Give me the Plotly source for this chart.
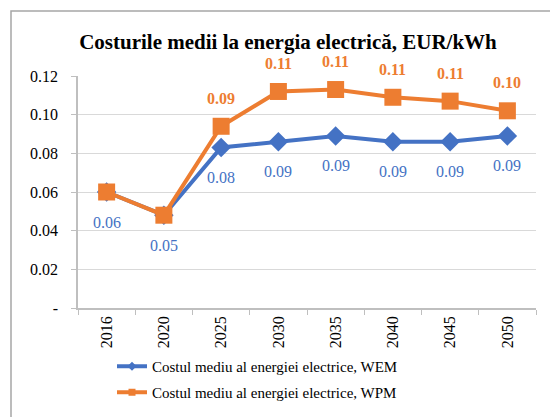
import plotly.graph_objects as go

years = ["2016", "2020", "2025", "2030", "2035", "2040", "2045", "2050"]
wem = [0.060, 0.048, 0.083, 0.086, 0.089, 0.086, 0.086, 0.089]
wpm = [0.060, 0.048, 0.094, 0.112, 0.113, 0.109, 0.107, 0.102]
wem_name = "Costul mediu al energiei electrice, WEM"
wpm_name = "Costul mediu al energiei electrice, WPM"
y_ticks = [0.0, 0.02, 0.04, 0.06, 0.08, 0.10, 0.12]
y_tick_text = ["-", "0.02", "0.04", "0.06", "0.08", "0.10", "0.12"]

BLUE = "#4472C4"
ORANGE = "#ED7D31"
SERIF = "Liberation Serif, Times New Roman, serif"
W, H = 550, 417

# category slots along the x axis
pos = list(range(len(years)))

fig = go.Figure()

# WEM series, drawn first so WPM sits on top
fig.add_trace(go.Scatter(
    x=pos, y=wem, mode="lines+markers", showlegend=False,
    line=dict(color=BLUE, width=4),
    marker=dict(symbol="diamond", size=15, color=BLUE),
))
fig.add_trace(go.Scatter(
    x=pos, y=wpm, mode="lines+markers", showlegend=False,
    line=dict(color=ORANGE, width=4),
    marker=dict(symbol="square", size=17, color=ORANGE),
))

# Legend entries with small markers, one legend box per series
fig.add_trace(go.Scatter(
    x=[None], y=[None], mode="lines+markers", name=wem_name, legend="legend",
    line=dict(color=BLUE, width=4),
    marker=dict(symbol="diamond", size=7, color=BLUE),
))
fig.add_trace(go.Scatter(
    x=[None], y=[None], mode="lines+markers", name=wpm_name, legend="legend2",
    line=dict(color=ORANGE, width=4),
    marker=dict(symbol="square", size=7, color=ORANGE),
))

annotations = []
for p, v in zip(pos, wem):
    annotations.append(dict(
        x=p, y=v, xref="x", yref="y", text=f"{v:.2f}", showarrow=False,
        yshift=-30, font=dict(family=SERIF, size=16, color=BLUE),
    ))
for p, v in list(zip(pos, wpm))[2:]:
    annotations.append(dict(
        x=p, y=v, xref="x", yref="y", text=f"<b>{v:.2f}</b>", showarrow=False,
        yshift=28, font=dict(family=SERIF, size=16, color=ORANGE),
    ))

legend_common = dict(
    orientation="v", xanchor="left", yanchor="top",
    xref="container", yref="container",
    font=dict(family=SERIF, size=15, color="#000000"),
    bgcolor="rgba(0,0,0,0)",
)

fig.update_layout(
    width=W, height=H,
    margin=dict(l=78, r=14, t=76, b=109, autoexpand=False),
    paper_bgcolor="white", plot_bgcolor="white",
    font=dict(family=SERIF, size=16, color="#000000"),
    title=dict(
        text="<b>Costurile medii la energia electrică, EUR/kWh</b>",
        x=288 / W, xanchor="center", xref="container",
        y=1 - 42 / H, yanchor="middle", yref="container",
        font=dict(family=SERIF, size=21, color="#000000"),
    ),
    xaxis=dict(
        range=[-0.5, len(years) - 0.5], tickvals=pos, ticktext=years,
        tickangle=-90, ticks="", showgrid=False, zeroline=False,
        minor=dict(ticks="outside", ticklen=5, tickcolor="#BFBFBF",
                   tick0=-0.5, dtick=1, showgrid=False),
        showline=True, linecolor="#BFBFBF", linewidth=1.5,
        tickfont=dict(family=SERIF, size=16),
    ),
    yaxis=dict(
        range=[0, 0.12], tickvals=y_ticks, ticktext=y_tick_text,
        ticks="outside", ticklen=5, tickcolor="#BFBFBF",
        showline=True, linecolor="#BFBFBF", linewidth=1.5,
        showgrid=True, gridcolor="#D9D9D9", gridwidth=1,
        zeroline=False, ticklabelstandoff=10,
        tickfont=dict(family=SERIF, size=16),
    ),
    legend=dict(x=112 / W, y=1 - 350 / H, **legend_common),
    legend2=dict(x=112 / W, y=1 - 376 / H, **legend_common),
    annotations=annotations,
    shapes=[dict(
        type="rect", xref="paper", yref="paper",
        x0=(11 - 78) / 458, x1=1.2, y0=-1.0, y1=(308 - 11) / 232,
        line=dict(color="#A6A6A6", width=1.5), layer="below",
    )],
)

fig.write_html("out.html", config={"displayModeBar": False})
